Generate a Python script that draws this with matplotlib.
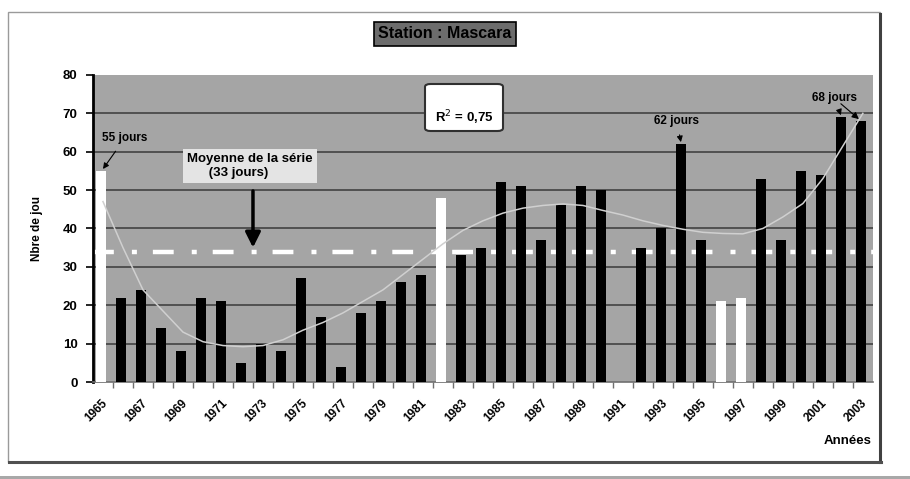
import matplotlib
matplotlib.use("Agg")
import matplotlib.pyplot as plt
from matplotlib.patches import Rectangle, FancyBboxPatch

plt.rcParams['font.family'] = ['Liberation Sans', 'DejaVu Sans']
plt.rcParams['lines.scale_dashes'] = False

# data
years = list(range(1965, 2004))
days = [55, 22, 24, 14, 8, 22, 21, 5, 10, 8,
        27, 17, 4, 18, 21, 26, 28, 48, 33, 35,
        52, 51, 37, 46, 51, 50, None, 35, 40, 62,
        37, 21, 22, 53, 37, 55, 54, 69, 68]
white_years = [1965, 1982, 1996, 1997]
trend = [47, 35, 24, 18.5, 13, 10.5, 9.5, 9.2, 9.5, 11,
         13.5, 15.5, 18, 21, 24, 28, 32, 36, 39.5, 42,
         44, 45.3, 46, 46.4, 46, 44.7, 43.5, 42, 40.8, 39.8,
         39, 38.7, 38.6, 40, 43, 46.5, 53, 61.5, 70]
mean_level = 33.8
yticks = list(range(0, 90, 10))
xtick_years = list(range(1965, 2004, 2))

fig = plt.figure(figsize=(9.1, 4.79), dpi=100)

# chart frame with a shadow
fig.patches.append(Rectangle((8 / 910, 1 - 462 / 479), 872 / 910, 450 / 479,
                             transform=fig.transFigure, fill=False,
                             edgecolor='#9a9a9a', lw=1.0, zorder=0))
fig.lines.append(plt.Line2D([880 / 910, 880 / 910], [1 - 462 / 479, 1 - 14 / 479],
                            transform=fig.transFigure, color='#404040', lw=2.2))
fig.lines.append(plt.Line2D([9 / 910, 881 / 910], [1 - 462 / 479, 1 - 462 / 479],
                            transform=fig.transFigure, color='#505050', lw=2.2))
fig.patches.append(Rectangle((0, 0), 1, 3 / 479, transform=fig.transFigure,
                             facecolor='#a8a8a8', edgecolor='none'))

ax = fig.add_axes([0.1022, 0.2025, 0.857, 0.641])
ax.set_facecolor('#a5a5a5')
ax.set_xlim(1964.5, 2003.5)
ax.set_ylim(0, 80)

for y in yticks[1:-1]:
    ax.axhline(y, color='#4a4a4a', lw=1.3, zorder=1)

ax.plot([1964.5, 2003.5], [mean_level, mean_level], color='white', lw=3.2,
        dashes=(15, 13, 3.6, 11.5), zorder=2, solid_capstyle='butt')

for yr, v in zip(years, days):
    if v is None:
        continue
    col = 'white' if yr in white_years else 'black'
    ax.bar(yr - 0.1, v, width=0.5, color=col, zorder=3)

ax.plot(years, trend, color='#d0d0d0', lw=1.1, zorder=4)

for s in ['top', 'right']:
    ax.spines[s].set_visible(False)
ax.spines['left'].set_linewidth(2)
ax.spines['left'].set_color('black')
ax.spines['bottom'].set_color('#707070')
ax.spines['bottom'].set_linewidth(1.2)

ax.set_yticks(yticks)
ax.set_yticklabels([str(t) for t in yticks], fontsize=9.5, fontweight='bold')
ax.tick_params(axis='y', direction='out', length=5, width=1.2, color='black', pad=6)

ax.set_xticks([y - 0.1 for y in xtick_years])
ax.set_xticklabels([str(y) for y in xtick_years], rotation=45, ha='right',
                   rotation_mode='anchor', fontsize=8.5, fontweight='bold')
ax.set_xticks([y + 0.5 for y in years[:-1]], minor=True)
ax.tick_params(axis='x', which='major', length=0, pad=11)
ax.tick_params(axis='x', which='minor', direction='out', length=4, width=1, color='#707070')

ax.set_ylabel('Nbre de jou', fontsize=8.5, fontweight='bold', labelpad=14)
fig.text(848 / 910, 1 - 441 / 479, 'Années', fontsize=9.5, fontweight='bold',
         ha='center', va='center')

# title box
fig.text(445 / 910, 1 - 34 / 479, 'Station : Mascara', fontsize=11.5, fontweight='bold',
         ha='center', va='center',
         bbox=dict(boxstyle='square,pad=0.3', facecolor='#6c6c6c', edgecolor='black', lw=1.2))

# R2 box
fig.patches.append(FancyBboxPatch((425 / 910, 1 - 131 / 479), 78 / 910, 47 / 479,
                                  boxstyle='round,pad=0,rounding_size=0.006',
                                  transform=fig.transFigure, facecolor='white',
                                  edgecolor='#303030', lw=1.5, zorder=5))
fig.text(464 / 910, 1 - 118 / 479, 'R$^2$ = 0,75', fontsize=9.5, fontweight='bold',
         ha='center', va='center', zorder=6)

# mean label and arrow
ax.text(1969.2, 56.2, 'Moyenne de la série\n      (33 jours)', fontsize=9.5,
        fontweight='bold', ha='left', va='center', linespacing=1.25, zorder=6,
        bbox=dict(boxstyle='square,pad=0.3', facecolor='#e4e4e4', edgecolor='none'))
ax.annotate('', xy=(1972.5, mean_level + 0.5), xytext=(1972.5, 50.5),
            arrowprops=dict(arrowstyle='-|>,head_width=0.45,head_length=0.9',
                            color='black', lw=2.5), zorder=6)

# peak annotations
ax.annotate('55 jours', xy=(1965, 55.5), xytext=(1966.1, 63.6), fontsize=8.5,
            fontweight='bold', ha='center', va='center', zorder=6,
            arrowprops=dict(arrowstyle='-|>,head_width=0.2,head_length=0.4',
                            color='black', lw=0.8, shrinkA=4, shrinkB=0))
ax.annotate('62 jours', xy=(1993.9, 62.5), xytext=(1993.7, 68.1), fontsize=8.5,
            fontweight='bold', ha='center', va='center', zorder=6,
            arrowprops=dict(arrowstyle='-|>,head_width=0.2,head_length=0.4',
                            color='black', lw=0.8, shrinkA=4, shrinkB=0))
ax.annotate('68 jours', xy=(2001.9, 69.5), xytext=(2001.6, 74), fontsize=8.5,
            fontweight='bold', ha='center', va='center', zorder=6,
            arrowprops=dict(arrowstyle='-|>,head_width=0.2,head_length=0.4',
                            color='black', lw=0.8, shrinkA=4, shrinkB=0))
ax.annotate('', xy=(2002.8, 68.5), xytext=(2001.9, 72.5), zorder=6,
            arrowprops=dict(arrowstyle='-|>,head_width=0.2,head_length=0.4',
                            color='black', lw=0.8, shrinkA=0, shrinkB=0))

fig.savefig('out.png', dpi=100)
